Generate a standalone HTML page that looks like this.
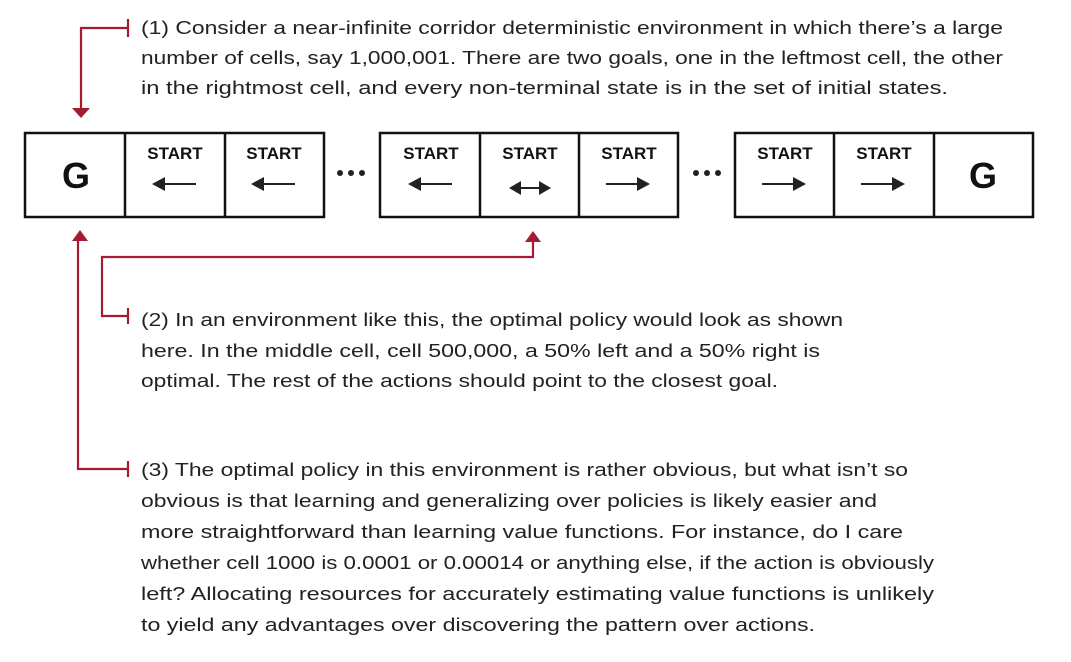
<!DOCTYPE html>
<html><head><meta charset="utf-8"><style>
html,body{margin:0;padding:0;background:#fff;}
svg{display:block;}
.t{font-family:"Liberation Sans",sans-serif;font-size:18px;fill:#222;}
.s{font-family:"Liberation Sans",sans-serif;font-size:17px;font-weight:bold;fill:#111;}
.g{font-family:"Liberation Sans",sans-serif;font-size:36px;font-weight:bold;fill:#111;}
</style></head><body>
<svg width="1071" height="662" viewBox="0 0 1071 662" xmlns="http://www.w3.org/2000/svg">
<defs>
<marker id="ah" markerWidth="10" markerHeight="10" refX="5" refY="5" orient="auto"><path d="M0,0 L10,5 L0,10 z" fill="#222"/></marker>
</defs>
<g fill="none" stroke="#111" stroke-width="2.5">
<rect x="25" y="133" width="299" height="84"/>
<line x1="125" y1="133" x2="125" y2="217"/><line x1="225" y1="133" x2="225" y2="217"/>
<rect x="380" y="133" width="298" height="84"/>
<line x1="480" y1="133" x2="480" y2="217"/><line x1="579" y1="133" x2="579" y2="217"/>
<rect x="735" y="133" width="298" height="84"/>
<line x1="834" y1="133" x2="834" y2="217"/><line x1="934" y1="133" x2="934" y2="217"/>
</g>
<text class="g" x="76" y="188" text-anchor="middle">G</text>
<text class="g" x="983" y="188" text-anchor="middle">G</text>
<g class="s" text-anchor="middle">
<text x="175" y="159">START</text><text x="274" y="159">START</text>
<text x="431" y="159">START</text><text x="530" y="159">START</text><text x="629" y="159">START</text>
<text x="785" y="159">START</text><text x="884" y="159">START</text>
</g>
<g fill="#222">
<circle cx="340" cy="173" r="3"/><circle cx="351" cy="173" r="3"/><circle cx="362" cy="173" r="3"/>
<circle cx="696" cy="173" r="3"/><circle cx="707" cy="173" r="3"/><circle cx="718" cy="173" r="3"/>
</g>
<g stroke="#222" stroke-width="2">
<!-- left arrows -->
<line x1="196" y1="184" x2="160" y2="184"/><path d="M152,184 L165,177 L165,191 z" fill="#222" stroke="none"/>
<line x1="295" y1="184" x2="259" y2="184"/><path d="M251,184 L264,177 L264,191 z" fill="#222" stroke="none"/>
<line x1="452" y1="184" x2="416" y2="184"/><path d="M408,184 L421,177 L421,191 z" fill="#222" stroke="none"/>
<!-- both -->
<line x1="518" y1="188" x2="542" y2="188"/><path d="M509,188 L521,181 L521,195 z" fill="#222" stroke="none"/><path d="M551,188 L539,181 L539,195 z" fill="#222" stroke="none"/>
<!-- right arrows -->
<line x1="606" y1="184" x2="642" y2="184"/><path d="M650,184 L637,177 L637,191 z" fill="#222" stroke="none"/>
<line x1="762" y1="184" x2="798" y2="184"/><path d="M806,184 L793,177 L793,191 z" fill="#222" stroke="none"/>
<line x1="861" y1="184" x2="897" y2="184"/><path d="M905,184 L892,177 L892,191 z" fill="#222" stroke="none"/>
</g>
<!-- callouts -->
<g stroke="#a51c30" stroke-width="2.2" fill="none">
<polyline points="128,28 81,28 81,110"/><line x1="128" y1="19" x2="128" y2="37"/>
<polyline points="128,316 102,316 102,257 533,257 533,240"/><line x1="128" y1="308" x2="128" y2="324"/>
<polyline points="128,469 78,469 78,240"/><line x1="128" y1="461" x2="128" y2="477"/>
</g>
<g fill="#a51c30">
<path d="M72,108 L90,108 L81,118 z"/>
<path d="M72,241 L88,241 L80,230 z"/>
<path d="M525,242 L541,242 L533,231 z"/>
</g>
<g class="t" lengthAdjust="spacingAndGlyphs">
<text x="141" y="34" textLength="862" lengthAdjust="spacingAndGlyphs">(1) Consider a near-infinite corridor deterministic environment in which there’s a large</text>
<text x="141" y="64" textLength="862" lengthAdjust="spacingAndGlyphs">number of cells, say 1,000,001. There are two goals, one in the leftmost cell, the other</text>
<text x="141" y="94" textLength="807" lengthAdjust="spacingAndGlyphs">in the rightmost cell, and every non-terminal state is in the set of initial states.</text>
<text x="141" y="326" textLength="702" lengthAdjust="spacingAndGlyphs">(2) In an environment like this, the optimal policy would look as shown</text>
<text x="141" y="357" textLength="679" lengthAdjust="spacingAndGlyphs">here. In the middle cell, cell 500,000, a 50% left and a 50% right is</text>
<text x="141" y="387" textLength="637" lengthAdjust="spacingAndGlyphs">optimal. The rest of the actions should point to the closest goal.</text>
<text x="141" y="476" textLength="767" lengthAdjust="spacingAndGlyphs">(3) The optimal policy in this environment is rather obvious, but what isn’t so</text>
<text x="141" y="507" textLength="736" lengthAdjust="spacingAndGlyphs">obvious is that learning and generalizing over policies is likely easier and</text>
<text x="141" y="538" textLength="762" lengthAdjust="spacingAndGlyphs">more straightforward than learning value functions. For instance, do I care</text>
<text x="141" y="569" textLength="793" lengthAdjust="spacingAndGlyphs">whether cell 1000 is 0.0001 or 0.00014 or anything else, if the action is obviously</text>
<text x="141" y="600" textLength="793" lengthAdjust="spacingAndGlyphs">left? Allocating resources for accurately estimating value functions is unlikely</text>
<text x="141" y="631" textLength="674" lengthAdjust="spacingAndGlyphs">to yield any advantages over discovering the pattern over actions.</text>
</g>
</svg>
</body></html>
